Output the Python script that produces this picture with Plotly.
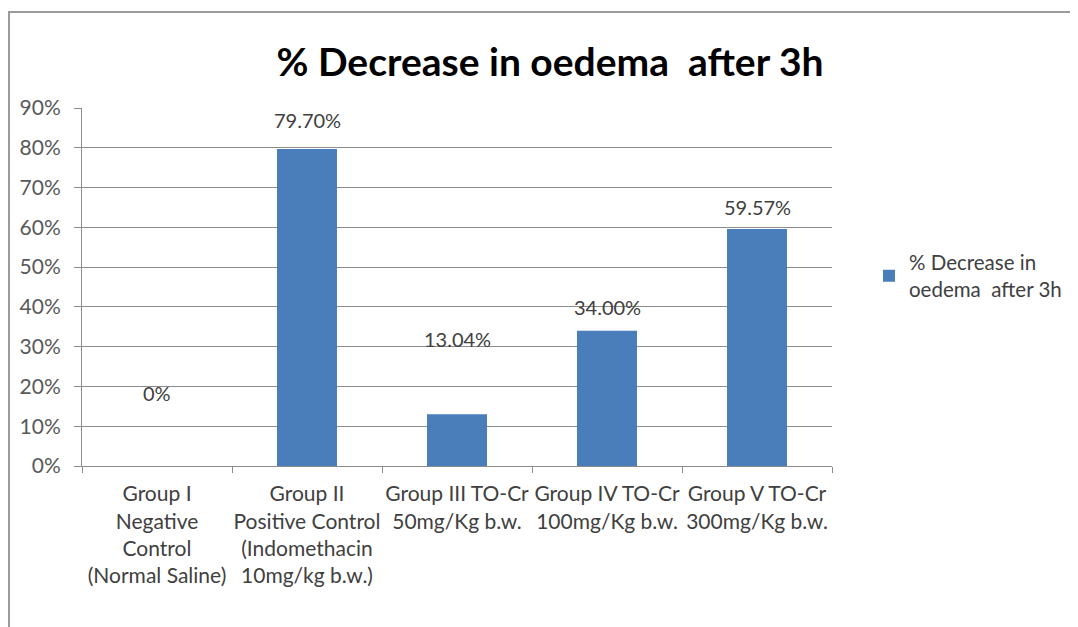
import plotly.graph_objects as go

# ---- data ----
categories = [
    "Group I<br>Negative<br>Control<br>(Normal Saline)",
    "Group II<br>Positive Control<br>(Indomethacin<br>10mg/kg b.w.)",
    "Group III TO-Cr<br>50mg/Kg b.w.",
    "Group IV TO-Cr<br>100mg/Kg b.w.",
    "Group V TO-Cr<br>300mg/Kg b.w.",
]
values = [0.0, 0.797, 0.1304, 0.34, 0.5957]
value_labels = ["0%", "79.70%", "13.04%", "34.00%", "59.57%"]
series_name = "% Decrease in<br>oedema  after 3h"
title_text = "% Decrease in oedema  after 3h"

# ---- layout constants (pixels, in page coordinates) ----
OFF = 8  # page body margin
W, H = 1078 - OFF, 627 - OFF
PL, PR, PT, PB = 82 - OFF, 832 - OFF, 108 - OFF, 466 - OFF  # plot area box
label_yshift = [73, 29, 75, 24, 22]  # manual label offsets above bar tops (px)

FONT = "Lato, 'Liberation Sans', sans-serif"
BAR = "#4A7EBB"
GRID = "#8C8C8C"
TXT = "#404040"

def px_to_paper_x(px):
    return (px - PL) / (PR - PL)

def px_to_paper_y(py):
    return (PB - py) / (PB - PT)

fig = go.Figure()
fig.add_trace(go.Bar(
    x=categories, y=values, name=series_name,
    marker=dict(color=BAR, line=dict(width=0)),
    width=0.4, showlegend=True,
))

for c, v, t, s in zip(categories, values, value_labels, label_yshift):
    fig.add_annotation(x=c, y=v, text=t, showarrow=False, yshift=s,
                       yanchor="middle", font=dict(family=FONT, size=20, color=TXT))

# outer frame lines (top and left)
fig.add_shape(type="line", xref="paper", yref="paper",
              x0=px_to_paper_x(0), x1=px_to_paper_x(W + 5),
              y0=px_to_paper_y(4), y1=px_to_paper_y(4),
              line=dict(color="#9A9A9A", width=2))
fig.add_shape(type="line", xref="paper", yref="paper",
              x0=px_to_paper_x(1), x1=px_to_paper_x(1),
              y0=px_to_paper_y(4), y1=px_to_paper_y(H + 5),
              line=dict(color="#9A9A9A", width=2))

fig.update_layout(
    width=W, height=H,
    margin=dict(l=PL, r=W - PR, t=PT, b=H - PB, autoexpand=False),
    paper_bgcolor="white", plot_bgcolor="white",
    font=dict(family=FONT, size=20, color=TXT),
    title=dict(text="<b>" + title_text + "</b>", x=(550 - OFF) / W, xanchor="center",
               xref="container", yref="container", y=1 - (62 - OFF) / H, yanchor="middle",
               font=dict(family=FONT, size=39, color="#000000")),
    bargap=0.6,
    showlegend=True,
    legend=dict(x=px_to_paper_x(869 - OFF), y=px_to_paper_y(276 - OFF), xanchor="left", yanchor="middle",
                font=dict(family=FONT, size=20.5, color=TXT), bgcolor="rgba(0,0,0,0)",
                itemwidth=30, tracegroupgap=0),
)

fig.update_xaxes(
    showline=True, linecolor=GRID, linewidth=1,
    ticks="outside", tickson="boundaries", ticklen=6, tickcolor=GRID,
    showgrid=False, tickfont=dict(family=FONT, size=21, color=TXT),
    tickangle=0, ticklabelstandoff=9,
)
fig.update_yaxes(
    range=[0, 0.9], dtick=0.1, tickformat=".0%",
    showline=True, linecolor=GRID, linewidth=1,
    ticks="outside", ticklen=7, tickcolor=GRID,
    showgrid=True, gridcolor=GRID, gridwidth=1, zeroline=False,
    tickfont=dict(family=FONT, size=21, color="#595959"),
    ticklabelstandoff=9,
)

fig.write_html("out.html")
